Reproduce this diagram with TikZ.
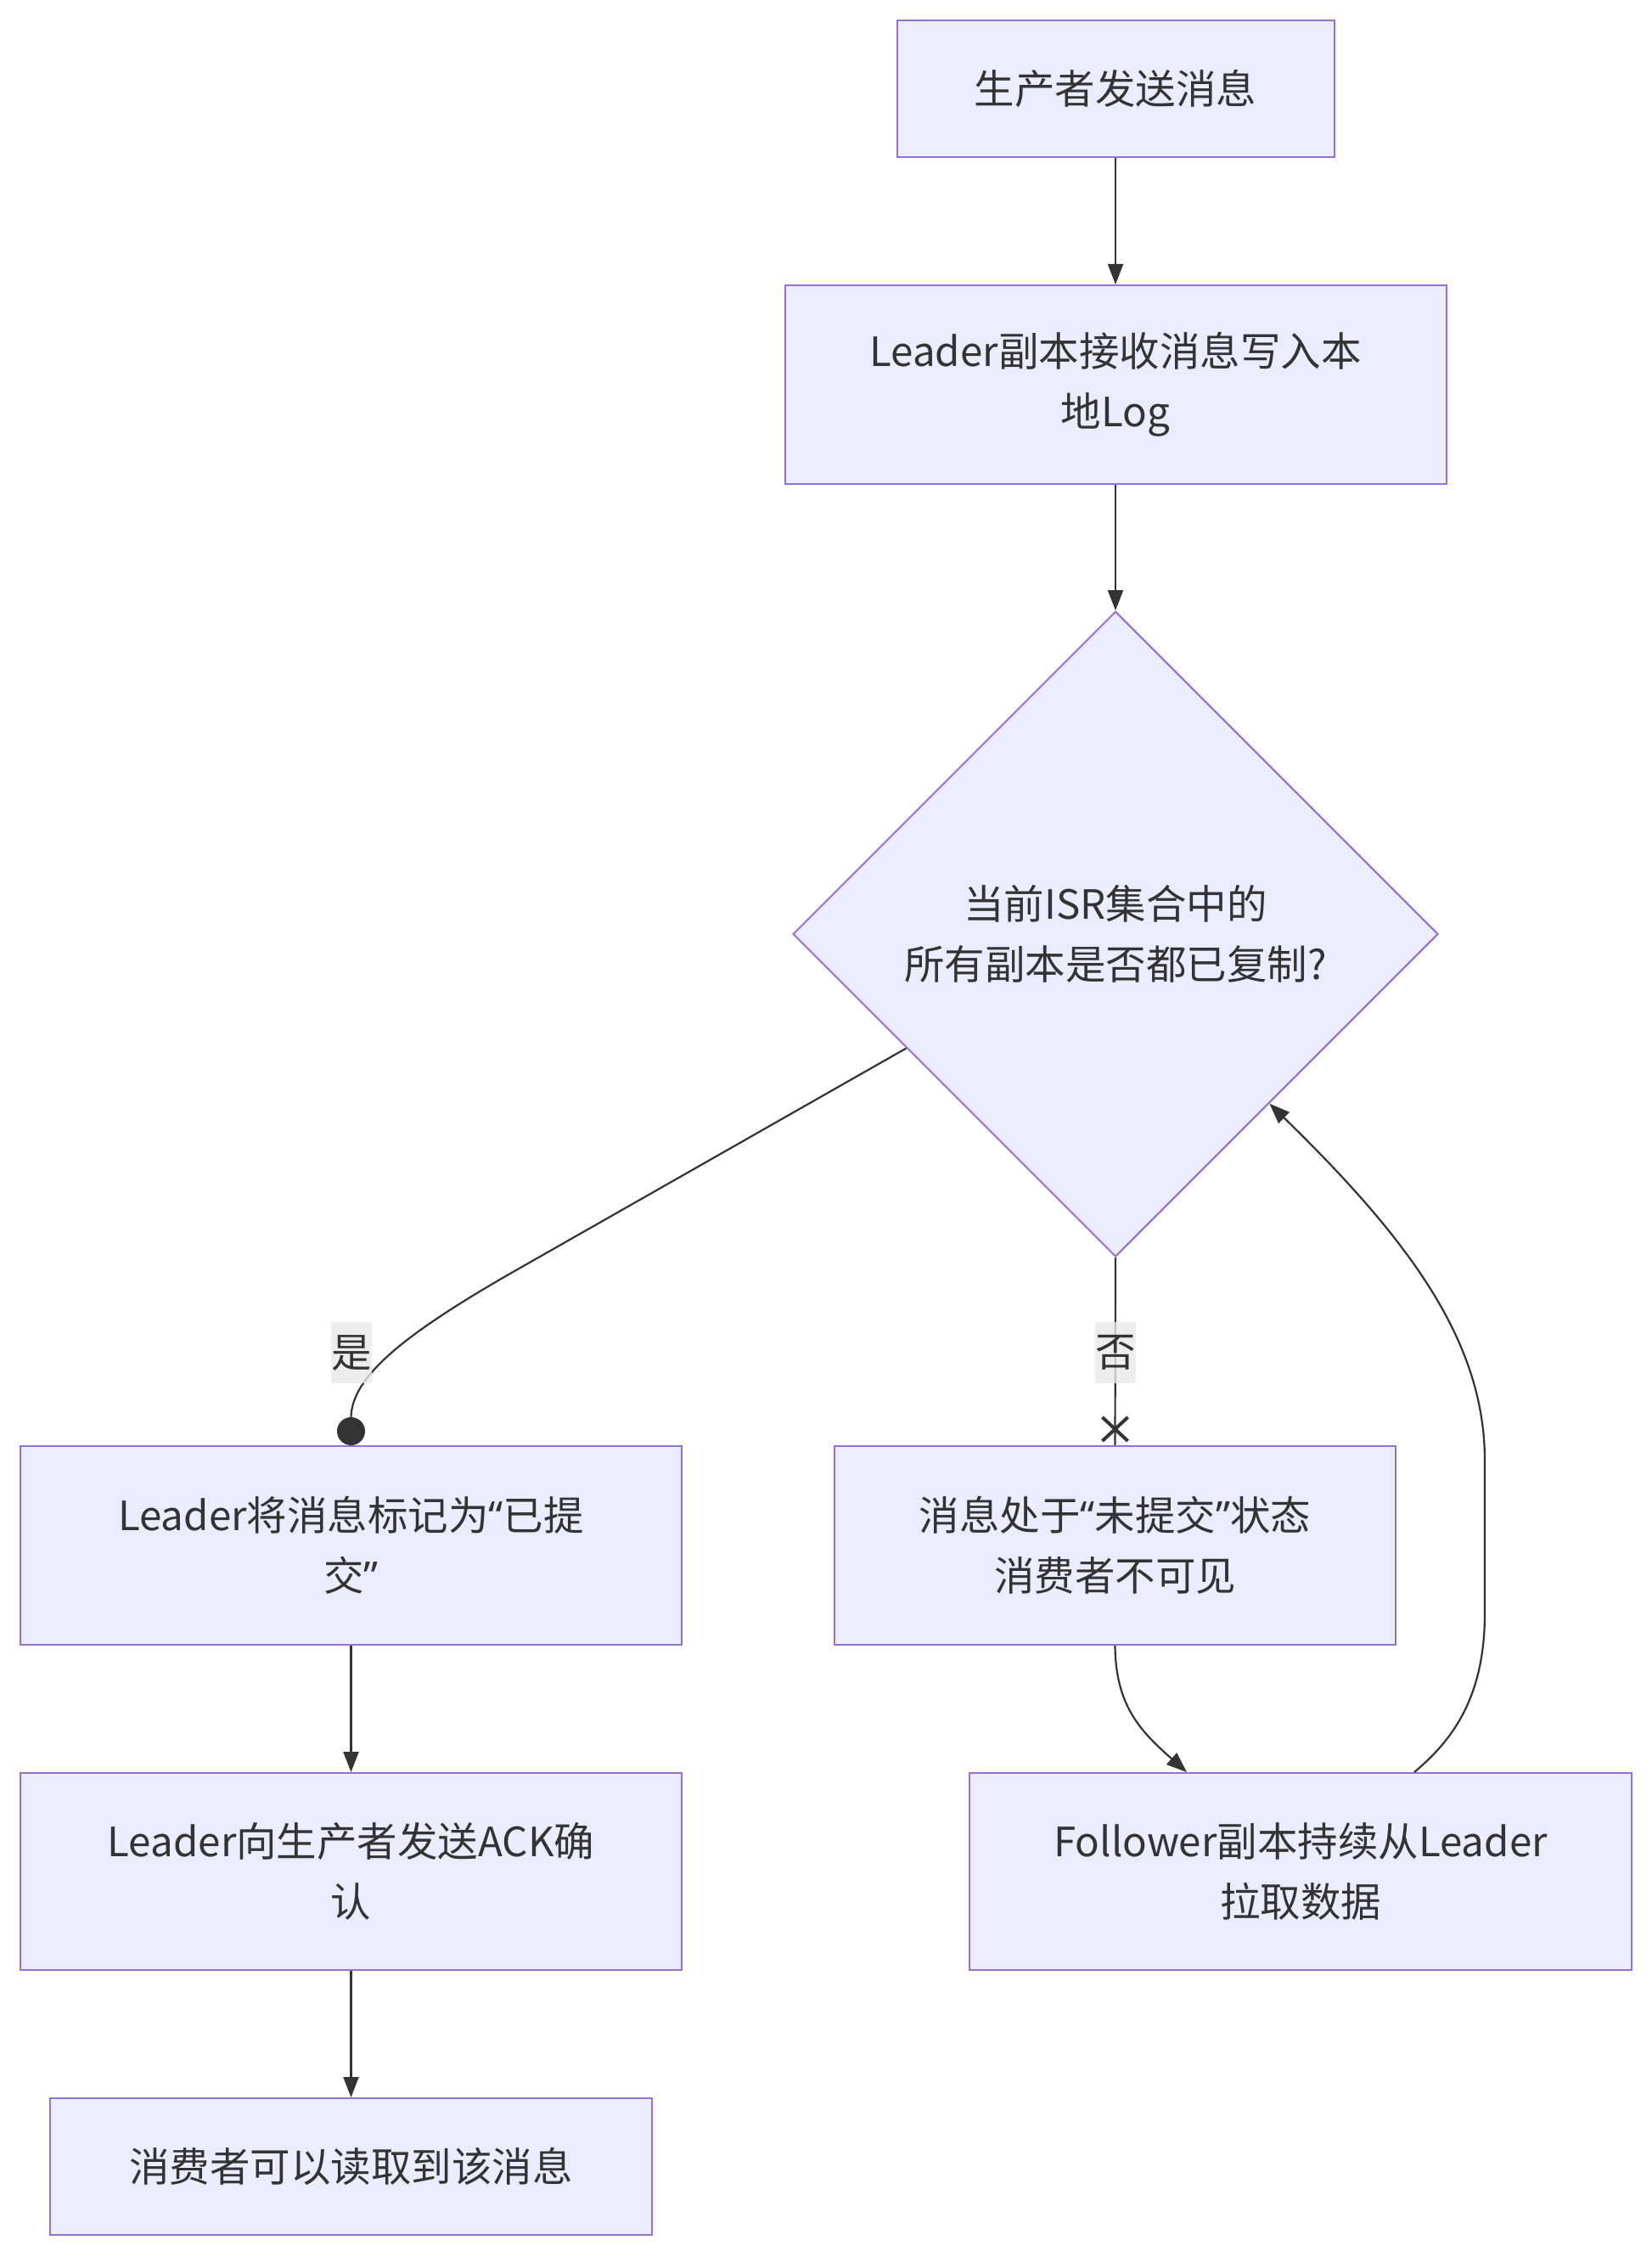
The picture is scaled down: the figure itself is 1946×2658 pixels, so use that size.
\documentclass[tikz,border=0pt]{standalone}
\usepackage{fontspec}
\setmainfont{Noto Sans CJK SC}
\newfontfamily\quotefont{Noto Sans}
\newcommand{\myLq}{{\quotefont “}}
\newcommand{\myRq}{{\quotefont ”}}
\usetikzlibrary{arrows.meta,shapes.geometric,calc}
\definecolor{nodefill}{HTML}{ECECFF}
\definecolor{nodeborder}{HTML}{9370DB}
\definecolor{ink}{HTML}{333333}
\definecolor{labelbg}{HTML}{E8E8E8}
\begin{document}
\begin{tikzpicture}[x=0.5pt,y=-0.5pt,
  txt/.style={text=ink, font=\fontsize{23.75pt}{35.6pt}\selectfont},
  box/.style={txt, draw=nodeborder, fill=nodefill, line width=1pt, align=center, inner sep=0pt},
  dec/.style={box, shape=diamond, aspect=1, minimum width=380pt, minimum height=380pt},
  edge/.style={draw=ink, line width=1.1pt},
  arr/.style={edge, -{Triangle[length=12pt,width=9pt]}},
  elabel/.style={txt, fill=labelbg, fill opacity=0.8, text opacity=1, inner sep=0pt, minimum width=24pt, minimum height=36pt}
]
\useasboundingbox (0,0) rectangle (1946,2658);
\node[box, minimum width=257.5pt, minimum height=80.5pt] (A) at (1314,104.5) {生产者发送消息};
\node[box, minimum width=389.5pt, minimum height=117pt] (B) at (1314,453) {Leader副本接收消息写入本\\地Log};
\node[dec] (dia) at (1314,1100) {当前ISR集合中的\\所有副本是否都已复制?};
\node[box, minimum width=389.5pt, minimum height=117pt] (C) at (413.5,1820) {Leader将消息标记为\myLq 已提\\交\myRq};
\node[box, minimum width=330.5pt, minimum height=117pt] (D) at (1313.5,1820) {消息处于\myLq 未提交\myRq 状态\\消费者不可见};
\node[box, minimum width=389.5pt, minimum height=116pt] (E) at (413.5,2204) {Leader向生产者发送ACK确\\认};
\node[box, minimum width=390pt, minimum height=116pt] (F) at (1532,2204) {Follower副本持续从Leader\\拉取数据};
\node[box, minimum width=354.5pt, minimum height=80.5pt] (G) at (413.5,2551.5) {消费者可以读取到该消息};

\draw[arr] (A.south) -- (B.north);
\draw[arr] (B.south) -- (dia.north);

\coordinate (p1) at ($(dia.west)!0.353!(dia.south)$);
\draw[edge, -{Circle[length=16.5pt]}] (p1) -- (620,1489) .. controls (480,1568) and (413.5,1620) .. (C.north);
\node[elabel] (lyes) at (414,1593) {是};

\draw[edge] (dia.south) -- (D.north);
\draw[ink, line width=2pt] ($(D.north)+(-15,-33)$) -- ($(D.north)+(15,-5)$);
\draw[ink, line width=2pt] ($(D.north)+(15,-33)$) -- ($(D.north)+(-15,-5)$);
\node[elabel] (lno) at (1314,1593) {否};

\draw[arr] (C.south) -- (E.north);
\draw[arr] (E.south) -- (G.north);

\draw[arr] (D.south) .. controls (1314,2010) and (1345,2040) .. ([xshift=-67pt]F.north);

\coordinate (p2) at ($(dia.east)!0.524!(dia.south)$);
\draw[arr] ([xshift=67pt]F.north) .. controls (1710,2050) and (1749,2000) .. (1749,1900) -- (1749,1720) .. controls (1749,1580) and (1660,1460) .. (p2);
\end{tikzpicture}
\end{document}
